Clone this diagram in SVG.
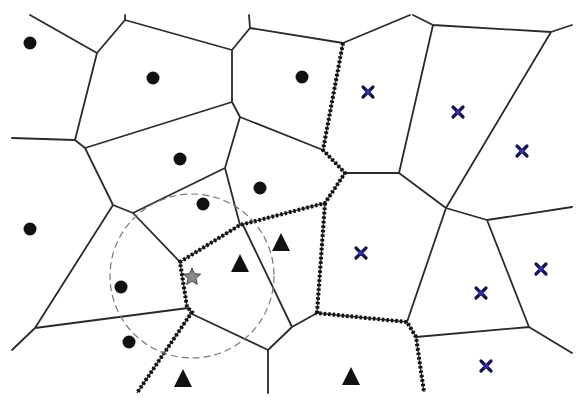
<svg xmlns="http://www.w3.org/2000/svg" width="579" height="400" viewBox="0 0 579 400">
<defs>
<style>
.e{stroke:#2a2a2a;stroke-width:1.8;fill:none;stroke-linecap:round;stroke-linejoin:round}
.d{stroke:#111;stroke-width:4;fill:none;stroke-dasharray:2.5 2}
.dl{stroke:#333;stroke-width:1.4;fill:none}
.c{stroke:#777;stroke-width:1.2;fill:none;stroke-dasharray:7 4}
.dot{fill:#111}
.tri{fill:#111}
.x{stroke:#14144a;stroke-width:3.2;stroke-linecap:round}
</style>
<circle id="dotm" r="6.5" class="dot"/>
<path id="trim" d="M0,-10 L9,8 L-9,8 Z" class="tri"/>
<g id="xm"><path class="x" d="M-5,-5 L5,5 M5,-5 L-5,5"/><circle r="2.6" fill="#2e2ea8"/></g>
</defs>
<rect width="579" height="400" fill="#fff"/>
<g id="connectors">
<path class="e" d="M30,15 L97,53 L125,20 L232,50 M125,15 L125,20 M97,53 L75,140 M12,138 L75,140 L85,148 L232,102 M85,148 L113,205 L133,213 L225,168 M113,205 L35,328 L12,350 M35,328 L188,308 M133,213 L180,262 M249,15 L250,28 L232,50 M250,28 L343,43 L410,15 M413,15 L433,25 M232,50 L232,102 L240,117 L323,150 M240,117 L225,168 L240,225 M345,173 L399,173 M433,25 L399,173 M433,25 L551,32 L572,25 M551,32 L446,208 M399,173 L446,208 L487,220 L572,207 M446,208 L407,322 M487,220 L529,327 L572,353 M416,337 L529,327 M243,225 L292,327 M317,313 L292,327 L268,350 L268,393 M268,350 L190,313"/>
<path class="dl" d="M343,43 L323,150 L345,173 L325,203 L240,225 L180,262 L187,307 L192,312 L137,393 M325,203 L317,313 L407,322 L416,337 L424,392"/>
<path class="d" d="M343,43 L323,150 L345,173 L325,203 L240,225 L180,262 L187,307 L192,312 L137,393 M325,203 L317,313 L407,322 L416,337 L424,392"/>
</g>
<circle id="range" cx="192" cy="276" r="82" class="c"/>
<g id="dots">
<use href="#dotm" x="30" y="43"/>
<use href="#dotm" x="153" y="78"/>
<use href="#dotm" x="180" y="159"/>
<use href="#dotm" x="302" y="77"/>
<use href="#dotm" x="260" y="188"/>
<use href="#dotm" x="203" y="204"/>
<use href="#dotm" x="30" y="229"/>
<use href="#dotm" x="121" y="287"/>
<use href="#dotm" x="129" y="342"/>
</g>
<g id="triangles">
<use href="#trim" x="281" y="243"/>
<use href="#trim" x="240" y="264"/>
<use href="#trim" x="183" y="379"/>
<use href="#trim" x="351" y="377"/>
</g>
<g id="crosses">
<use href="#xm" x="368" y="92"/>
<use href="#xm" x="458" y="112"/>
<use href="#xm" x="522" y="151"/>
<use href="#xm" x="361" y="253"/>
<use href="#xm" x="541" y="269"/>
<use href="#xm" x="481" y="293"/>
<use href="#xm" x="486" y="366"/>
</g>
<g id="star">
<path d="M192,268 L194.4,273.7 L200.6,274.2 L195.9,278.3 L197.3,284.3 L192,281.1 L186.7,284.3 L188.1,278.3 L183.4,274.2 L189.6,273.7 Z" fill="#8a8a8a" stroke="#333" stroke-width="0.9"/>
</g>
</svg>
